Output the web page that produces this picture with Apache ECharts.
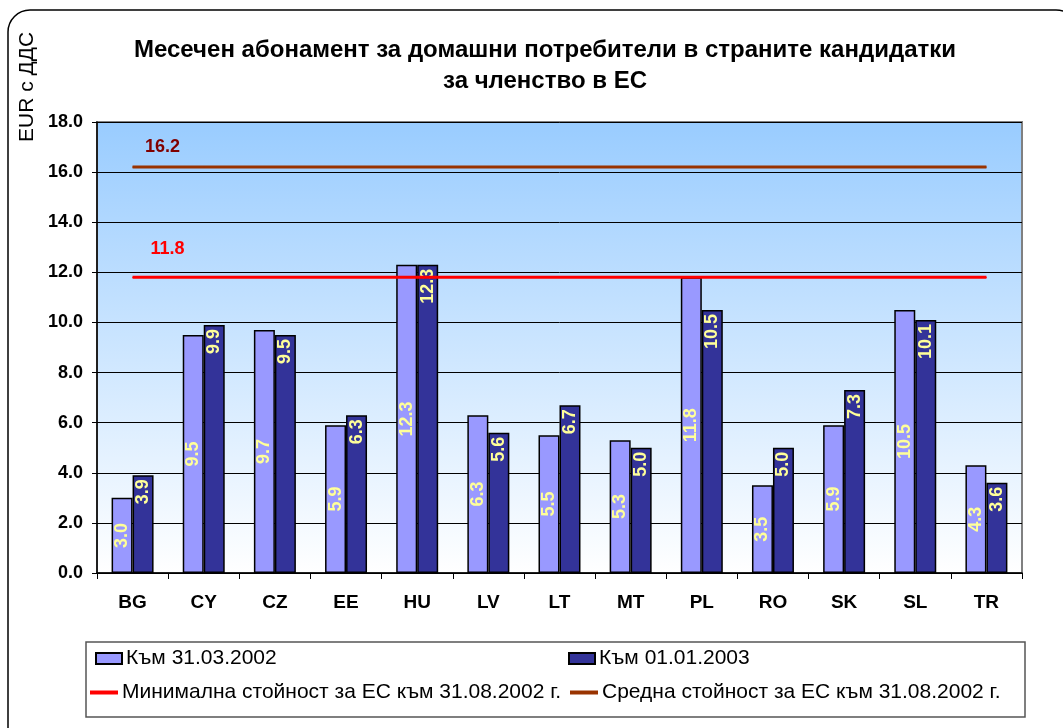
<!DOCTYPE html>
<html>
<head>
<meta charset="utf-8">
<script src="https://cdn.jsdelivr.net/npm/echarts@6/dist/echarts.min.js"></script>
<style>
  html, body { margin: 0; padding: 0; background: #fff; }
  #chart { width: 1063px; height: 728px; }
</style>
</head>
<body>
<div id="chart"></div>
<script>
const categories = ['BG', 'CY', 'CZ', 'EE', 'HU', 'LV', 'LT', 'MT', 'PL', 'RO', 'SK', 'SL', 'TR'];
const march2002 = [3.0, 9.5, 9.7, 5.9, 12.3, 6.3, 5.5, 5.3, 11.8, 3.5, 5.9, 10.5, 4.3];
const jan2003 = [3.9, 9.9, 9.5, 6.3, 12.3, 5.6, 6.7, 5.0, 10.5, 5.0, 7.3, 10.1, 3.6];
const minEU = 11.8;
const avgEU = 16.2;
const yTicks = [0, 2, 4, 6, 8, 10, 12, 14, 16, 18];

const FONT = '"Liberation Sans", Arial, sans-serif';
const names = ['Към 31.03.2002', 'Към 01.01.2003',
  'Минимална стойност за ЕС към 31.08.2002 г.', 'Средна стойност за ЕС към 31.08.2002 г.'];

// reference line: same value on every category, label only on the first point
function refLine(value, labelColor, dx, dy) {
  return categories.map((c, i) => i === 0 ? {
    value: value,
    label: {
      show: true, position: 'top', offset: [dx, dy],
      color: labelColor, fontWeight: 'bold', fontSize: 18, fontFamily: FONT,
      formatter: v => v.value.toFixed(1)
    }
  } : value);
}

const barLabel = {
  show: true, rotate: 90, color: '#FFFF99', fontWeight: 'bold',
  fontSize: 18, fontFamily: FONT, formatter: p => p.value.toFixed(1)
};

function legendAt(name, left, top, isLine) {
  return {
    data: [{ name: name, icon: 'rect' }], left: left, top: top, orient: 'horizontal',
    itemWidth: isLine ? 28 : 26, itemHeight: isLine ? 4 : 11, itemGap: 4, padding: 0,
    textStyle: { fontFamily: FONT, fontSize: 21, color: '#000', padding: [0, 0, 0, -1] },
    selectedMode: false
  };
}

const chart = echarts.init(document.getElementById('chart'));
chart.setOption({
  animation: false,
  backgroundColor: '#fff',
  title: {
    text: 'Месечен абонамент за домашни потребители в страните кандидатки\nза членство в ЕС',
    left: 540, top: 30, textAlign: 'center',
    textStyle: { fontFamily: FONT, fontSize: 24, fontWeight: 'bold', color: '#000', lineHeight: 31 }
  },
  graphic: [
    {
      type: 'rect', shape: { x: 8, y: 10, width: 1070, height: 760, r: 22 },
      style: { fill: 'none', stroke: '#000', lineWidth: 1.5 }, z: -10
    },
    {
      type: 'rect', shape: { x: 86, y: 642, width: 939, height: 75 },
      style: { fill: '#fff', stroke: '#555', lineWidth: 1.5 }, z: -5
    },
    {
      type: 'text', x: 17, y: 142, rotation: Math.PI / 2,
      style: { text: 'EUR с ДДС', fontFamily: FONT, fontSize: 21, fill: '#000' }
    }
  ],
  legend: [
    legendAt(names[0], 95, 648, false),
    legendAt(names[1], 568, 648, false),
    legendAt(names[2], 90, 682, true),
    legendAt(names[3], 570, 682, true)
  ],
  grid: {
    left: 97, right: 41, top: 122, bottom: 155,
    show: true, borderColor: '#808080', borderWidth: 2,
    backgroundColor: new echarts.graphic.LinearGradient(0, 0, 0, 1, [
      { offset: 0, color: '#99CCFF' },
      { offset: 1, color: '#FFFFFF' }
    ])
  },
  xAxis: {
    type: 'category', data: categories,
    axisLine: { lineStyle: { color: '#000', width: 1.5 } },
    axisTick: { show: true, length: 6, lineStyle: { color: '#000' } },
    axisLabel: { color: '#000', fontWeight: 'bold', fontSize: 19, fontFamily: FONT, margin: 20 }
  },
  yAxis: {
    type: 'value', min: 0, max: 18, interval: 2,
    axisLine: { show: true, lineStyle: { color: '#000', width: 1.5 } },
    axisTick: { show: true, length: 5, lineStyle: { color: '#000' } },
    splitLine: { lineStyle: { color: '#000', width: 1 } },
    axisLabel: {
      color: '#000', fontWeight: 'bold', fontSize: 18, fontFamily: FONT, margin: 14,
      formatter: v => yTicks.indexOf(v) >= 0 ? v.toFixed(1) : ''
    }
  },
  series: [
    {
      name: names[0], type: 'bar', data: march2002,
      barGap: '0%', barCategoryGap: '41%',
      itemStyle: { color: '#9999FF', borderColor: '#000', borderWidth: 1.5 },
      label: Object.assign({}, barLabel, { position: 'inside', align: 'center', verticalAlign: 'middle' })
    },
    {
      name: names[1], type: 'bar', data: jan2003,
      itemStyle: { color: '#333399', borderColor: '#000', borderWidth: 1.5 },
      label: Object.assign({}, barLabel, { position: 'insideTop', align: 'right', verticalAlign: 'middle', distance: 4 })
    },
    {
      name: names[2], type: 'line', data: refLine(minEU, '#FF0000', 35, -14),
      symbol: 'circle', symbolSize: 1, z: 5,
      lineStyle: { color: '#FF0000', width: 3 }, itemStyle: { color: '#FF0000' }
    },
    {
      name: names[3], type: 'line', data: refLine(avgEU, '#800000', 30, -6),
      symbol: 'circle', symbolSize: 1, z: 5,
      lineStyle: { color: '#993300', width: 3 }, itemStyle: { color: '#993300' }
    }
  ]
});
</script>
</body>
</html>
